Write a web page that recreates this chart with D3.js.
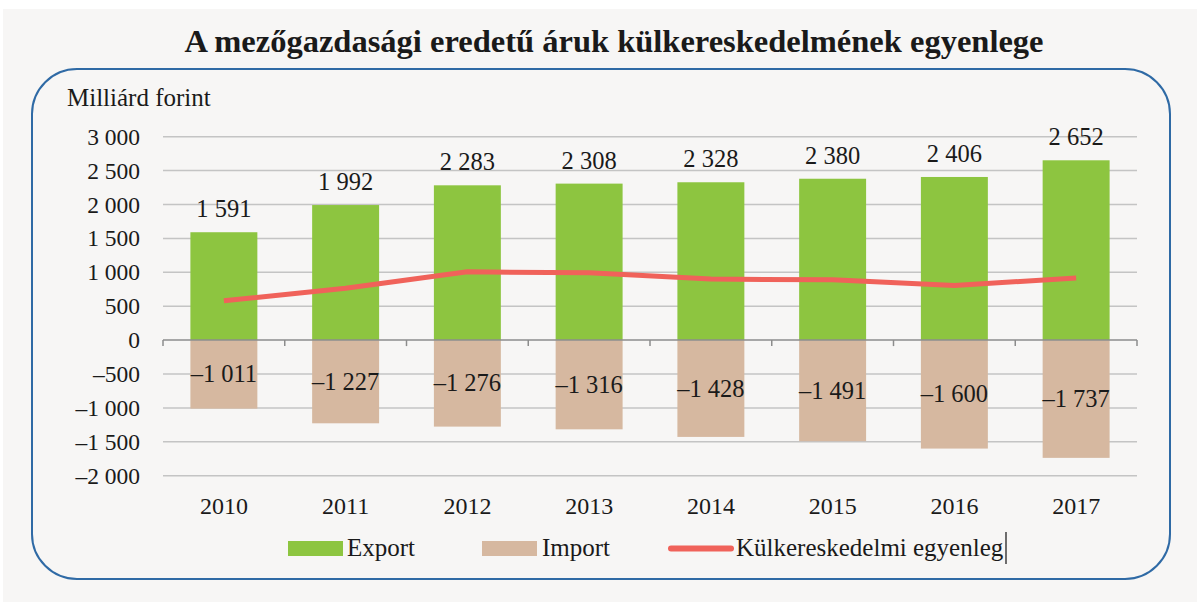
<!DOCTYPE html>
<html><head><meta charset="utf-8">
<script src="https://cdn.jsdelivr.net/npm/d3@7"></script>
<style>body{margin:0;background:#fff}svg{display:block}</style>
</head><body>
<script>
const categories = ['2010','2011','2012','2013','2014','2015','2016','2017'];
const exportValues = [1591,1992,2283,2308,2328,2380,2406,2652];
const importValues = [-1011,-1227,-1276,-1316,-1428,-1491,-1600,-1737];
const balanceValues = [580,765,1007,992,900,889,806,915];
const yTicks = [-2000,-1500,-1000,-500,0,500,1000,1500,2000,2500,3000];
const legendLabels = ['Export','Import','Külkereskedelmi egyenleg'];

const W=1200,H=604;
const FONT='"Liberation Serif","Times New Roman","DejaVu Serif",serif';
const svg=d3.select('body').append('svg').attr('width',W).attr('height',H);
svg.append('rect').attr('x',3).attr('y',9).attr('width',1194).attr('height',593).attr('fill','#f7f6f5');

svg.append('text').attr('x',614).attr('y',52).attr('text-anchor','middle')
  .attr('font-family',FONT).attr('font-weight','bold').attr('font-size',32.5).attr('fill','#1a1a1a')
  .text('A mezőgazdasági eredetű áruk külkereskedelmének egyenlege');

svg.append('rect').attr('x',32).attr('y',69).attr('width',1138).attr('height',510).attr('rx',45)
  .attr('fill','none').attr('stroke','#2f6aa5').attr('stroke-width',2);

const fmt=v=>{const s=Math.abs(v).toString().replace(/\B(?=(\d{3})+(?!\d))/g,' ');return (v<0?'–':'')+s;};

const x=d3.scaleBand().domain(categories).range([163,1137]).paddingInner(0.45).paddingOuter(0.225);
const y=d3.scaleLinear().domain([-2000,3000]).range([475.7,136.7]);

svg.append('text').attr('x',67).attr('y',106).attr('font-family',FONT).attr('font-size',25).attr('fill','#1a1a1a').text('Milliárd forint');

// grid
const g=svg.append('g');
g.selectAll('line.grid').data(yTicks.filter(t=>t!==0)).join('line')
  .attr('x1',163).attr('x2',1137).attr('y1',d=>y(d)).attr('y2',d=>y(d))
  .attr('stroke','#c4c4c4').attr('stroke-width',1.5);

// y axis labels
const yAxis=d3.axisLeft(y).tickValues(yTicks).tickFormat(fmt).tickSize(0).tickPadding(0);
const ya=svg.append('g').attr('transform','translate(140,0)').call(yAxis).attr('font-family',FONT);
ya.select('.domain').remove();
ya.selectAll('text').attr('font-family',FONT).attr('font-size',23.5).attr('fill','#1a1a1a');

// bars
svg.selectAll('rect.exp').data(exportValues).join('rect')
  .attr('x',(d,i)=>x(categories[i])).attr('width',x.bandwidth())
  .attr('y',d=>y(d)).attr('height',d=>y(0)-y(d)).attr('fill','#8dc540');
svg.selectAll('rect.imp').data(importValues).join('rect')
  .attr('x',(d,i)=>x(categories[i])).attr('width',x.bandwidth())
  .attr('y',y(0)).attr('height',d=>y(d)-y(0)).attr('fill','#d6b8a0');

// zero axis
const xAxis=d3.axisBottom(x).tickSize(0).tickFormat('');
const xa=svg.append('g').attr('transform',`translate(0,${y(0)})`).call(xAxis);
xa.select('.domain').attr('stroke','#8c8c8c').attr('stroke-width',1.5).attr('d','M163,0H1137');
const step=x.step();
svg.append('g').selectAll('line').data(d3.range(categories.length+1)).join('line')
  .attr('x1',i=>163+i*step).attr('x2',i=>163+i*step).attr('y1',y(0)).attr('y2',y(0)+6)
  .attr('stroke','#8c8c8c').attr('stroke-width',1.5);

// year labels
svg.append('g').selectAll('text').data(categories).join('text')
  .attr('x',d=>x(d)+x.bandwidth()/2).attr('y',514).attr('text-anchor','middle')
  .attr('font-family',FONT).attr('font-size',24).attr('fill','#1a1a1a').text(d=>d);

// line
const line=d3.line().x((d,i)=>x(categories[i])+x.bandwidth()/2).y(d=>y(d));
svg.append('path').datum(balanceValues).attr('d',line).attr('fill','none')
  .attr('stroke','#f0625a').attr('stroke-width',5).attr('stroke-linejoin','round');

// labels
svg.append('g').selectAll('text').data(exportValues).join('text')
  .attr('x',(d,i)=>x(categories[i])+x.bandwidth()/2).attr('y',d=>y(d)-15).attr('text-anchor','middle')
  .attr('font-family',FONT).attr('font-size',24.5).attr('fill','#1a1a1a').text(fmt);
svg.append('g').selectAll('text').data(importValues).join('text')
  .attr('x',(d,i)=>x(categories[i])+x.bandwidth()/2).attr('y',d=>(y(0)+y(d))/2+8).attr('text-anchor','middle')
  .attr('font-family',FONT).attr('font-size',24.5).attr('fill','#1a1a1a').text(fmt);

// legend
const lg=svg.append('g');
const lx=[288,482,671];
lg.append('rect').attr('x',lx[0]).attr('y',541).attr('width',55).attr('height',15).attr('fill','#8dc540');
lg.append('rect').attr('x',lx[1]).attr('y',541).attr('width',55).attr('height',15).attr('fill','#d6b8a0');
lg.append('line').attr('x1',lx[2]).attr('x2',lx[2]+60).attr('y1',548.5).attr('y2',548.5)
  .attr('stroke','#f0625a').attr('stroke-width',6).attr('stroke-linecap','round');
const ltx=[347,542,736];
lg.selectAll('text').data(legendLabels).join('text').attr('x',(d,i)=>ltx[i]).attr('y',556)
  .attr('font-family',FONT).attr('font-size',25).attr('fill','#1a1a1a').text(d=>d);
lg.append('line').attr('x1',1006).attr('x2',1006).attr('y1',532).attr('y2',564).attr('stroke','#111').attr('stroke-width',1.2);
</script>
</body></html>
